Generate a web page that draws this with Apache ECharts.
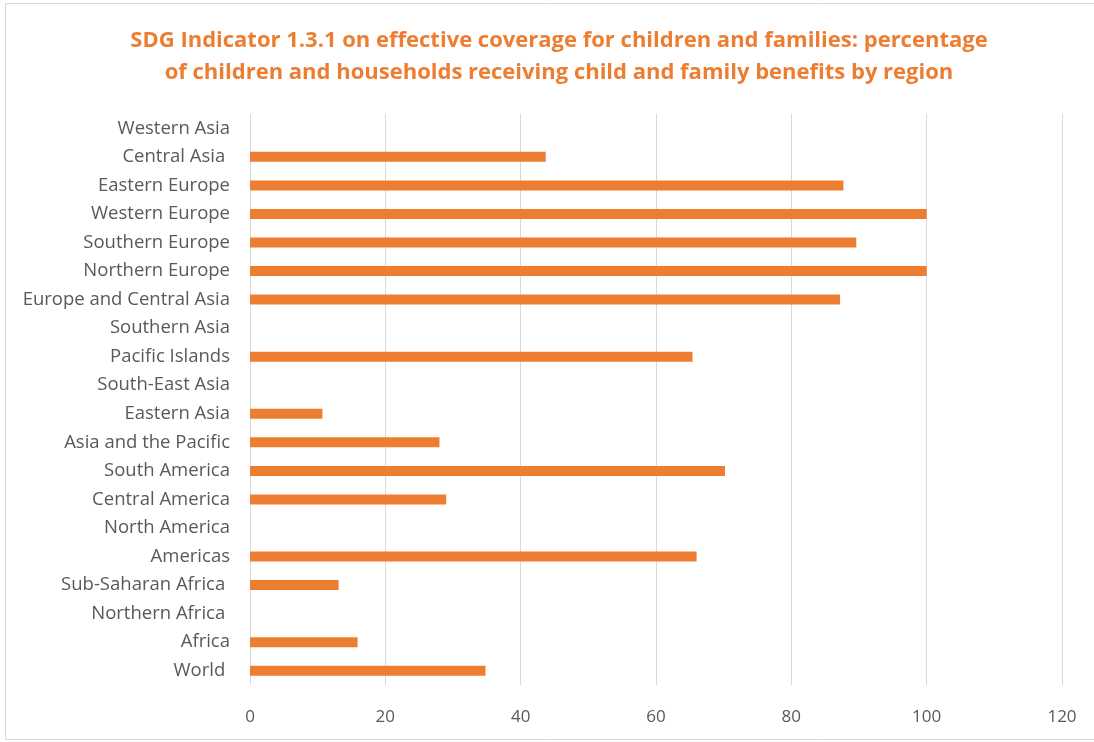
<!DOCTYPE html>
<html>
<head>
<meta charset="utf-8">
<script src="https://cdn.jsdelivr.net/npm/echarts@6/dist/echarts.min.js"></script>
<style>
  html, body { margin: 0; padding: 0; background: #fff; }
  #chart { width: 1094px; height: 742px; }
</style>
</head>
<body>
<div id="chart"></div>
<script>
// Regions listed bottom to top (category axis runs upward)
const regions = [
  'World ', 'Africa', 'Northern Africa ', 'Sub-Saharan Africa ', 'Americas',
  'North America', 'Central America', 'South America', 'Asia and the Pacific',
  'Eastern Asia', 'South-East Asia', 'Pacific Islands', 'Southern Asia',
  'Europe and Central Asia', 'Northern Europe', 'Southern Europe',
  'Western Europe', 'Eastern Europe', 'Central Asia ', 'Western Asia'
];
// Percentage of children/households receiving benefits (null = no data)
const coverage = [
  34.8, 15.9, null, 13.1, 66.0,
  null, 29.0, 70.2, 28.0,
  10.7, null, 65.4, null,
  87.2, 100, 89.6,
  100, 87.7, 43.7, null
];
const xTicks = [0, 20, 40, 60, 80, 100, 120];

const titleText = 'SDG Indicator 1.3.1 on effective coverage for children and families: percentage\nof children and households receiving child and family benefits by region';
const font = '"Open Sans", Lato, sans-serif';

const chart = echarts.init(document.getElementById('chart'), null, { renderer: 'canvas' });
chart.setOption({
  animation: false,
  backgroundColor: '#ffffff',
  title: {
    text: titleText,
    left: 554,
    textAlign: 'center',
    top: 20,
    textStyle: {
      color: '#ED7D31',
      fontFamily: font,
      fontWeight: 'bold',
      fontSize: 22,
      lineHeight: 32
    }
  },
  graphic: [{
    type: 'rect',
    shape: { x: 5.5, y: 3.5, width: 1100, height: 736 },
    style: { fill: 'none', stroke: '#d9d9d9', lineWidth: 1 },
    silent: true
  }],
  grid: { left: 250, right: 32, top: 114, bottom: 57, containLabel: false },
  xAxis: {
    type: 'value',
    min: xTicks[0],
    max: xTicks[xTicks.length - 1],
    interval: 20,
    axisLine: { show: false },
    axisTick: { show: false },
    splitLine: { show: true, lineStyle: { color: '#d9d9d9', width: 1 } },
    axisLabel: {
      color: '#595959',
      fontFamily: font,
      fontSize: 17,
      margin: 24
    }
  },
  yAxis: {
    type: 'category',
    data: regions,
    axisLine: { show: false },
    axisTick: { show: false },
    axisLabel: {
      color: '#595959',
      fontFamily: font,
      fontSize: 18.5,
      margin: 20
    }
  },
  series: [{
    type: 'bar',
    data: coverage,
    barWidth: 10,
    itemStyle: { color: '#ED7D31' }
  }]
});
</script>
</body>
</html>
